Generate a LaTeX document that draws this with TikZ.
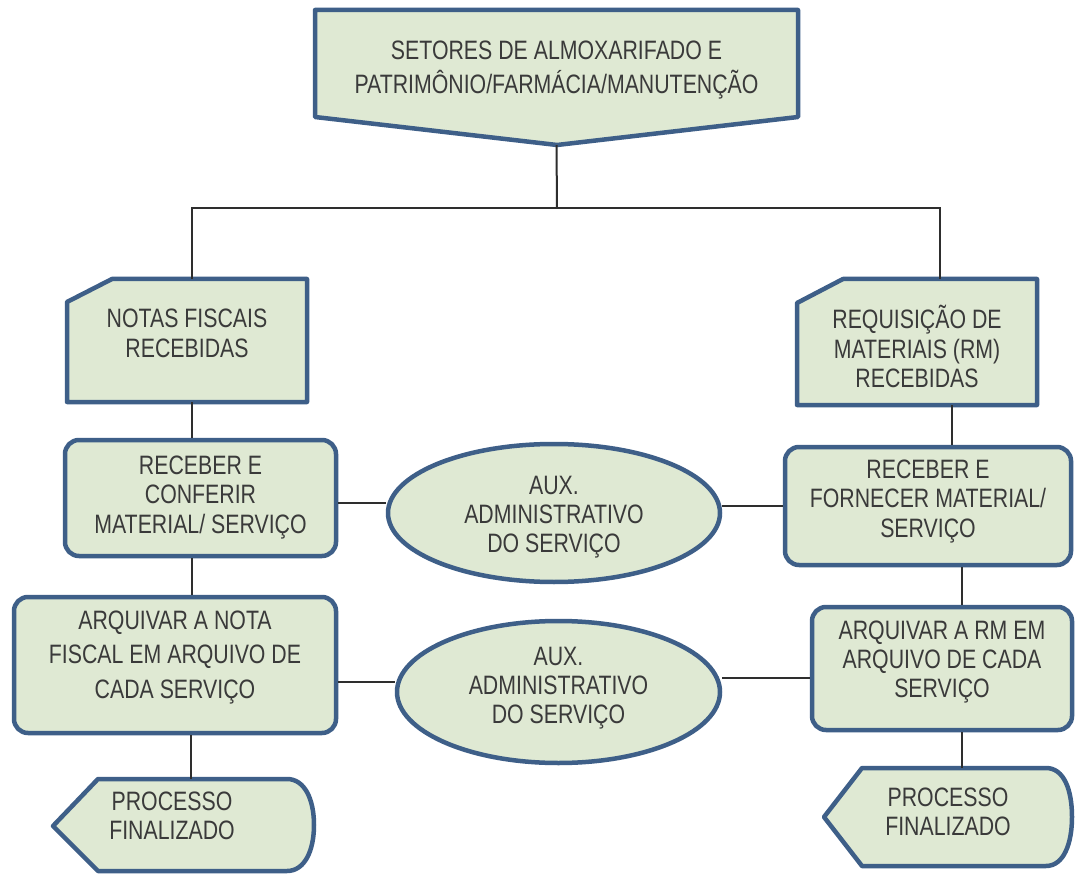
\documentclass[tikz,border=0pt]{standalone}
\usepackage{fontspec}
\setmainfont{Liberation Sans}
\usepackage{graphicx}
\usetikzlibrary{shapes.geometric,calc}

\definecolor{boxfill}{HTML}{DFE9D3}
\definecolor{boxline}{HTML}{3E5F88}
\definecolor{boxtext}{HTML}{3A3A3A}
\definecolor{linkline}{HTML}{2E2E2E}

% centred, slightly tall lines of label text; optional vertical nudge
\newcommand{\stl}[2][0pt]{\raisebox{#1}[\height][\depth]{\scalebox{1}[1.25]{\begin{tabular}{@{}c@{}}#2\end{tabular}}}}

\begin{document}
\begin{tikzpicture}[x=1pt,y=-1pt,
  txt/.style={text=boxtext, font=\fontsize{21.3}{23.5}\selectfont, inner sep=0pt},
  widetxt/.style={font=\fontsize{21.3}{27.5}\selectfont},
  outline/.style={draw=boxline, line width=4.5pt, fill=boxfill, line join=round},
  procbox/.style={txt, outline, rounded corners=14pt},
  auxoval/.style={txt, outline, ellipse},
  slot/.style={txt, rectangle},
  link/.style={draw=linkline, line width=2pt}]

\path[use as bounding box, fill=white] (0,0) rectangle (1076,874);

% ---- top off-page connector
\draw[outline] (315,10) -- (798,10) -- (798,117) -- (557,145) -- (315,117) -- cycle;
\node[slot, widetxt, minimum width=483pt, minimum height=135pt] (top) at (556.5,77.5)
  {\stl[8pt]{SETORES DE ALMOXARIFADO E\\PATRIMÔNIO/FARMÁCIA/MANUTENÇÃO}};

% ---- document cards
\draw[outline] (67,302) -- (112,279) -- (307,279) -- (307,402) -- (67,402) -- cycle;
\node[slot, minimum width=240pt, minimum height=123pt] (lcard) at (187,340.5)
  {\stl[4pt]{NOTAS FISCAIS\\RECEBIDAS}};

\draw[outline] (797,303) -- (843,279) -- (1037,279) -- (1037,405) -- (797,405) -- cycle;
\node[slot, minimum width=240pt, minimum height=126pt] (rcard) at (917,342)
  {\stl[-9pt]{REQUISIÇÃO DE\\MATERIAIS (RM)\\RECEBIDAS}};

% ---- process boxes
\node[procbox, minimum width=271pt, minimum height=116pt] (lrecv) at (200.5,498)
  {\stl{RECEBER E\\CONFERIR\\MATERIAL/ SERVIÇO}};
\node[procbox, minimum width=286pt, minimum height=118pt] (rrecv) at (928,506)
  {\stl[4pt]{RECEBER E\\FORNECER MATERIAL/\\SERVIÇO}};
\node[procbox, widetxt, minimum width=322pt, minimum height=136pt] (larq) at (175,665)
  {\stl[8pt]{ARQUIVAR A NOTA\\FISCAL EM ARQUIVO DE\\CADA SERVIÇO}};
\node[procbox, minimum width=260pt, minimum height=123pt] (rarq) at (942,668.5)
  {\stl[6pt]{ARQUIVAR A RM EM\\ARQUIVO DE CADA\\SERVIÇO}};

% ---- staff ovals
\node[auxoval, minimum width=332pt, minimum height=138pt] (aux1) at (554,513)
  {\stl[-4.5pt]{AUX.\\ADMINISTRATIVO\\DO SERVIÇO}};
\node[auxoval, minimum width=323pt, minimum height=142pt] (aux2) at (558.5,692)
  {\stl[3.5pt]{AUX.\\ADMINISTRATIVO\\DO SERVIÇO}};

% ---- end-of-process display shapes
\draw[outline] (53,826) -- (98,779) -- (287,779)
  .. controls (305,779) and (314,800) .. (314,825)
  .. controls (314,850) and (305,871) .. (287,871) -- (98,871) -- cycle;
\node[slot, minimum width=261pt, minimum height=92pt] (lend) at (183.5,825)
  {\stl[6pt]{PROCESSO\\FINALIZADO}\hspace*{23pt}};

\draw[outline] (824,817) -- (862,768) -- (1046,768)
  .. controls (1064,768) and (1072,790) .. (1072,817)
  .. controls (1072,843) and (1064,866) .. (1046,866) -- (862,866) -- cycle;
\node[slot, minimum width=248pt, minimum height=98pt] (rend) at (948,817)
  {\stl[2pt]{PROCESSO\\FINALIZADO}};

% ---- connectors
\coordinate (bus) at (557,208);
\draw[link] (top.south) -- (bus);
\draw[link] (bus) -| ([xshift=5pt]lcard.north);
\draw[link] (bus) -| ([xshift=23pt]rcard.north);

\coordinate (l1) at ([xshift=5pt]lcard.south);
\draw[link] (l1) -- (l1 |- lrecv.north);
\coordinate (r1) at ([xshift=35pt]rcard.south);
\draw[link] (r1) -- (r1 |- rrecv.north);
\coordinate (l2) at ([xshift=-9pt]lrecv.south);
\draw[link] (l2) -- (l2 |- larq.north);
\coordinate (r2) at ([xshift=34pt]rrecv.south);
\draw[link] (r2) -- (r2 |- rarq.north);
\coordinate (l3) at ([xshift=16pt]larq.south);
\draw[link] (l3) -- (l3 |- lend.north);
\coordinate (r3) at ([xshift=20pt]rarq.south);
\draw[link] (r3) -- (r3 |- rend.north);

\coordinate (h1) at ([yshift=-5pt]lrecv.east);
\draw[link] (h1) -- (h1 -| aux1.west);
\draw[link] (rrecv.west) -- (rrecv.west -| aux1.east);
\coordinate (h2) at ([yshift=-17pt]larq.east);
\draw[link] (h2) -- (h2 -| aux2.west);
\coordinate (h3) at ([yshift=-9.5pt]rarq.west);
\draw[link] (h3) -- (h3 -| aux2.east);
\end{tikzpicture}
\end{document}
